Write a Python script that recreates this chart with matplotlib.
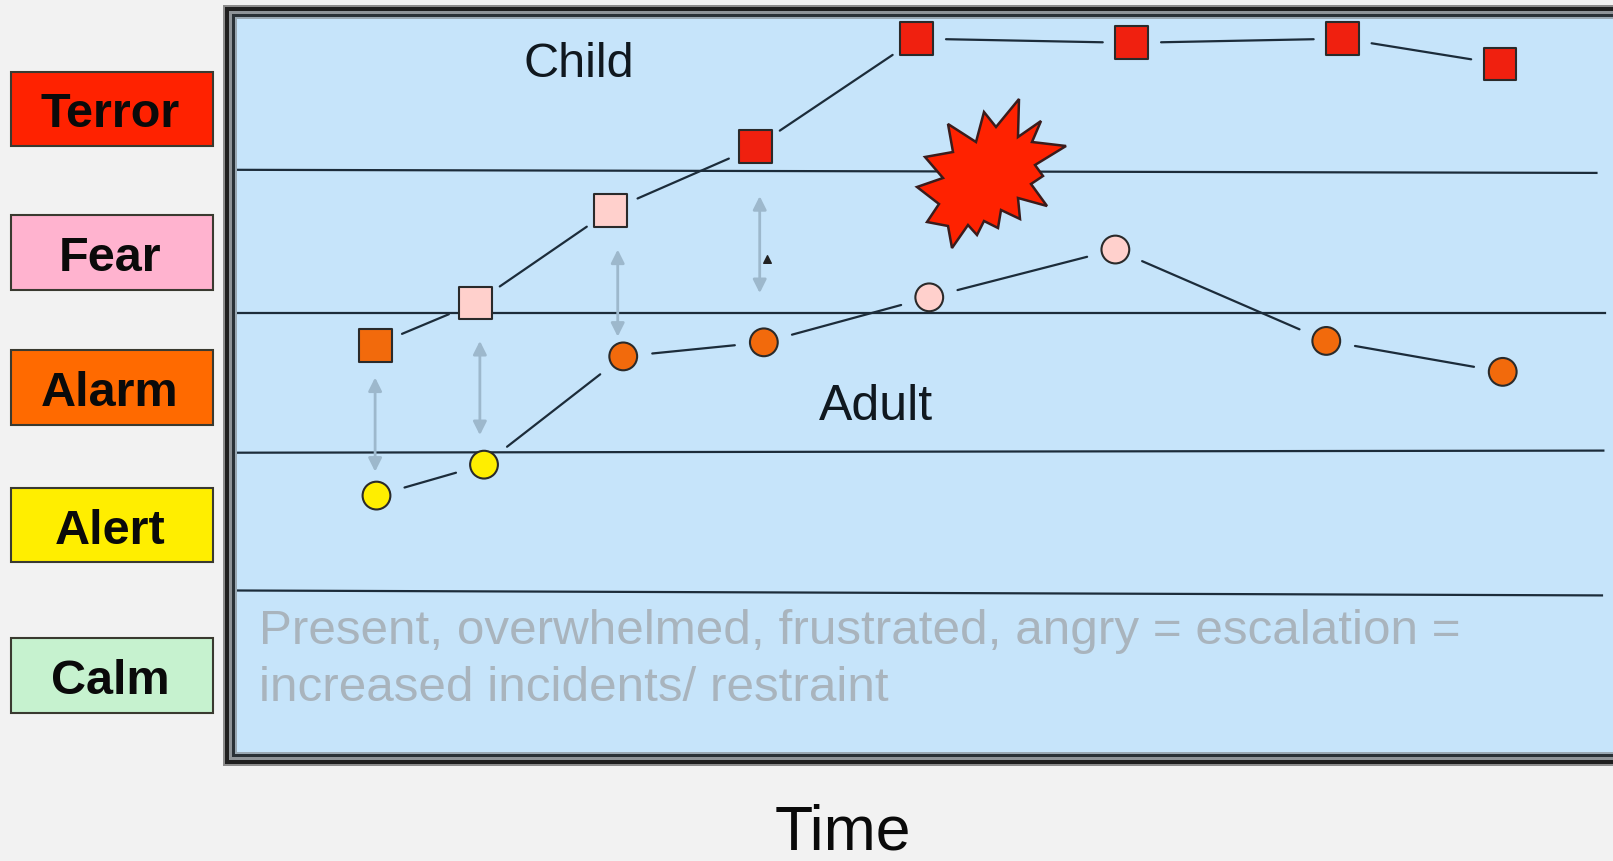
import matplotlib
matplotlib.use('Agg')
import matplotlib.pyplot as plt
from matplotlib.patches import Rectangle, Polygon
from matplotlib.transforms import IdentityTransform

plt.rcParams['font.family'] = ['Liberation Sans', 'DejaVu Sans']

W, H = 1613, 862

# arousal states, bottom of the list is the top of the page
states = ['Terror', 'Fear', 'Alarm', 'Alert', 'Calm']
state_levels = [4.44, 3.42, 2.46, 1.48, 0.41]
state_colors = ['#ff2200', '#ffb3cf', '#ff6a00', '#ffee00', '#c6f2cf']

# child trace
child_time = [10.2, 17.5, 27.3, 37.8, 49.5, 65.1, 80.4, 91.8]
child_level = [2.76, 3.06, 3.72, 4.17, 4.94, 4.91, 4.94, 4.76]
child_colors = ['#f26a0c', '#ffd0cc', '#ffd0cc', '#f0200f',
                '#f0200f', '#f0200f', '#f0200f', '#f0200f']

# adult trace
adult_time = [10.3, 18.1, 28.2, 38.4, 50.4, 63.9, 79.2, 92.0]
adult_level = [1.69, 1.91, 2.68, 2.78, 3.10, 3.44, 2.79, 2.57]
adult_colors = ['#ffee00', '#ffee00', '#f26a0c', '#f26a0c',
                '#ffd0cc', '#ffd0cc', '#f26a0c', '#f26a0c']

# band lines, they are a little crooked in the original
band_start = [4.007, 2.99, 1.995, 1.015]
band_end = [3.985, 2.99, 2.01, 0.98]
band_stop_time = [98.8, 99.4, 99.3, 99.2]

# gaps between the traces
gap_time = [10.2, 17.8, 27.8, 38.1]
gap_top = [2.53, 2.79, 3.44, 3.82]
gap_bottom = [1.86, 2.12, 2.82, 3.13]

# burst outline, picture pixels
burst_x = [1019, 1018, 1041, 1032, 1066, 1035, 1043, 1031, 1047, 1018, 1020,
           1001, 998, 984, 977, 968, 952, 948, 927, 939, 917, 943, 925, 953,
           948, 976, 984, 996]
burst_y = [100, 138, 122, 143, 147, 166, 177, 185, 207, 199, 220, 211, 229,
           222, 236, 226, 249, 227, 223, 205, 188, 179, 158, 153, 125, 143,
           113, 128]

note = 'Present, overwhelmed, frustrated, angry = escalation =\nincreased incidents/ restraint'


def to_time(px):
    return (px - 234.5) / 13.785


def to_level(py):
    return 1 + (593.6 - py) / 140.6


def draw_trace(ax, times, levels, colors, marker, size):
    for i in range(len(times) - 1):
        ax.annotate('', xy=(times[i + 1], levels[i + 1]), xytext=(times[i], levels[i]),
                    arrowprops=dict(arrowstyle='-', color='#1c2c3a', lw=1.6,
                                    shrinkA=21, shrinkB=21), zorder=3)
    ax.scatter(times, levels, c=colors, marker=marker, s=size,
               edgecolors='#2a2a2a', linewidths=1.5, zorder=5)


fig = plt.figure(figsize=(W / 100, H / 100), dpi=100, facecolor='#f2f2f2')

# triple frame, runs off the right side
frame = [(0, '#8c8c8c'), (2, '#1f1f1f'), (6, '#8f9498'), (9, '#2a3136'), (12, '#9aa8b2')]
for i, (inset, col) in enumerate(frame):
    fig.add_artist(Rectangle((223 + inset, H - 767 + inset), W, 761 - 2 * inset,
                             facecolor=col, edgecolor='none', zorder=-10 + i,
                             transform=IdentityTransform()))

ax = fig.add_axes([237 / W, (H - 753) / H, (W - 237) / W, 733 / H])
ax.set_facecolor('#c6e4fa')
ax.set_xlim(to_time(237), to_time(W))
ax.set_ylim(to_level(753), to_level(20))
ax.set_xticks([])
ax.set_yticks([])
for s in ax.spines.values():
    s.set_visible(False)

for a, b, stop in zip(band_start, band_end, band_stop_time):
    ax.plot([0.2, stop], [a, b], color='#1c2c3a', lw=1.6, zorder=2)

for t, top, bot in zip(gap_time, gap_top, gap_bottom):
    ax.annotate('', xy=(t, bot), xytext=(t, top),
                arrowprops=dict(arrowstyle='<|-|>', color='#9db8cc', lw=2,
                                mutation_scale=20, shrinkA=0, shrinkB=0), zorder=3)

draw_trace(ax, child_time, child_level, child_colors, 's', 560)
draw_trace(ax, adult_time, adult_level, adult_colors, 'o', 400)

ax.add_patch(Polygon(list(zip(map(to_time, burst_x), map(to_level, burst_y))),
                     facecolor='#ff2200', edgecolor='#3a1c1c', lw=1.8, zorder=6))

# mouse pointer left in the screen grab
ax.scatter([38.6], [3.37], marker='^', s=30, color='#222222', zorder=6)

ax.text(to_time(579), to_level(64), 'Child', fontsize=35, color='#10181f',
        ha='center', va='center')
ax.text(to_time(876), to_level(407), 'Adult', fontsize=36, color='#10181f',
        ha='center', va='center')
ax.text(to_time(259), to_level(660), note, fontsize=35.6, color='#a9b4bd',
        ha='left', va='center', linespacing=1.32)

lab = fig.add_axes([11 / W, (H - 753) / H, 202 / W, 733 / H])
lab.set_xlim(0, 1)
lab.set_ylim(to_level(753), to_level(20))
lab.axis('off')
lab.barh(state_levels, [1] * len(states), height=0.53, color=state_colors,
         edgecolor='#3a3a30', linewidth=1.5, clip_on=False)
for name, lv in zip(states, state_levels):
    lab.text(0.49, lv - 0.035, name, fontsize=35, fontweight='bold', color='#0a0a0a',
             ha='center', va='center')

fig.text(843 / W, 1 - 833 / H, 'Time', fontsize=45, color='#0a0a0a',
         ha='center', va='center')

fig.savefig('out.png', dpi=100, facecolor=fig.get_facecolor())
